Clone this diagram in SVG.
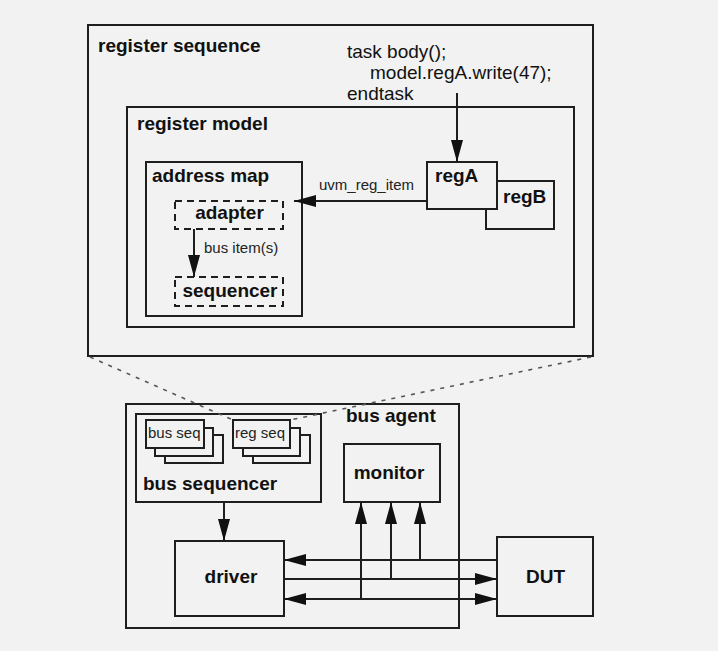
<svg xmlns="http://www.w3.org/2000/svg" width="718" height="651" viewBox="0 0 718 651">
<style>
.box{fill:#f2f2f2;stroke:#1e1e1e;stroke-width:2}
.dash{fill:#f2f2f2;stroke:#1e1e1e;stroke-width:2;stroke-dasharray:7,5}
.b{font-family:"Liberation Sans",Arial,sans-serif;font-weight:bold;font-size:19px;fill:#111}
.r{font-family:"Liberation Sans",Arial,sans-serif;font-size:19px;fill:#111}
.s{font-family:"Liberation Sans",Arial,sans-serif;font-size:15px;fill:#222}
.ln{fill:none;stroke:#1e1e1e;stroke-width:2}
.dot{fill:none;stroke:#555;stroke-width:1.6;stroke-dasharray:4,6}
</style>
<defs>
<marker id="ah" markerUnits="userSpaceOnUse" markerWidth="22" markerHeight="12" refX="22" refY="6" orient="auto">
<path d="M0,0 L22,6 L0,12 z" fill="#111"/>
</marker>
<marker id="ahs" markerUnits="userSpaceOnUse" markerWidth="22" markerHeight="12" refX="22" refY="6" orient="auto-start-reverse">
<path d="M0,0 L22,6 L0,12 z" fill="#111"/>
</marker>
</defs>
<rect width="718" height="651" fill="#f2f2f2"/>

<g id="register-sequence">
<rect class="box" x="88" y="25" width="505" height="331"/>
<text class="b" x="98" y="52">register sequence</text>
<text class="r" x="347" y="58">task body();</text>
<text class="r" x="370" y="79">model.regA.write(47);</text>
<text class="r" x="347" y="100">endtask</text>
</g>
<g id="register-model">
<rect class="box" x="127" y="107" width="447" height="220"/>
<text class="b" x="137" y="130">register model</text>
</g>
<g id="address-map">
<rect class="box" x="146" y="162" width="156" height="154"/>
<text class="b" x="152" y="182">address map</text>
</g>
<g id="adapter">
<rect class="dash" x="175" y="201" width="108" height="28"/>
<text class="b" x="229.5" y="219" text-anchor="middle">adapter</text>
</g>
<g id="sequencer">
<rect class="dash" x="175" y="277" width="108" height="29"/>
<text class="b" x="230" y="297" text-anchor="middle">sequencer</text>
</g>
<g id="regB">
<rect class="box" x="486" y="181" width="68" height="48"/>
<text class="b" x="503" y="203">regB</text>
</g>
<g id="regA">
<rect class="box" x="427" y="162" width="70" height="47"/>
<text class="b" x="435" y="182">regA</text>
</g>

<g id="bus-agent">
<rect class="box" x="126" y="404" width="333" height="224"/>
<text class="b" x="346" y="422">bus agent</text>
</g>
<g id="bus-sequencer">
<rect class="box" x="136" y="414" width="185" height="88"/>
<text class="b" x="143" y="490">bus sequencer</text>
</g>
<g id="bus-seq">
<rect class="box" x="165" y="435" width="58" height="28"/>
<rect class="box" x="155" y="428" width="58" height="28"/>
<rect class="box" x="146" y="420" width="58" height="28"/>
<text class="s" x="148" y="438">bus seq</text>
</g>
<g id="reg-seq">
<rect class="box" x="253" y="435" width="57" height="28"/>
<rect class="box" x="243" y="428" width="57" height="28"/>
<rect class="box" x="233" y="420" width="57" height="28"/>
<text class="s" x="235" y="438">reg seq</text>
</g>
<g id="monitor">
<rect class="box" x="344" y="444" width="96" height="58"/>
<text class="b" x="389" y="479" text-anchor="middle">monitor</text>
</g>
<g id="driver">
<rect class="box" x="175" y="541" width="109" height="75"/>
<text class="b" x="231" y="583" text-anchor="middle">driver</text>
</g>
<g id="DUT">
<rect class="box" x="497" y="537" width="96" height="79"/>
<text class="b" x="545.5" y="583" text-anchor="middle">DUT</text>
</g>

<g id="connectors">
<line class="ln" x1="457" y1="93" x2="457" y2="162" marker-end="url(#ah)"/>
<line class="ln" x1="427" y1="201" x2="294" y2="201" marker-end="url(#ah)"/>
<text class="s" x="319" y="190">uvm_reg_item</text>
<line class="ln" x1="194" y1="229" x2="194" y2="277" marker-end="url(#ah)"/>
<text class="s" x="204" y="253">bus item(s)</text>
<line class="ln" x1="224" y1="502" x2="224" y2="541" marker-end="url(#ah)"/>
<line class="ln" x1="497" y1="560" x2="284" y2="560" marker-end="url(#ah)"/>
<line class="ln" x1="284" y1="579" x2="497" y2="579" marker-end="url(#ah)"/>
<line class="ln" x1="284" y1="599" x2="497" y2="599" marker-start="url(#ahs)" marker-end="url(#ah)"/>
<line class="ln" x1="420" y1="560" x2="420" y2="502" marker-end="url(#ah)"/>
<line class="ln" x1="391" y1="579" x2="391" y2="502" marker-end="url(#ah)"/>
<line class="ln" x1="361" y1="599" x2="361" y2="502" marker-end="url(#ah)"/>
<line class="dot" x1="90" y1="357" x2="233" y2="420"/>
<line class="dot" x1="591" y1="357" x2="290" y2="420"/>
</g>
</svg>
